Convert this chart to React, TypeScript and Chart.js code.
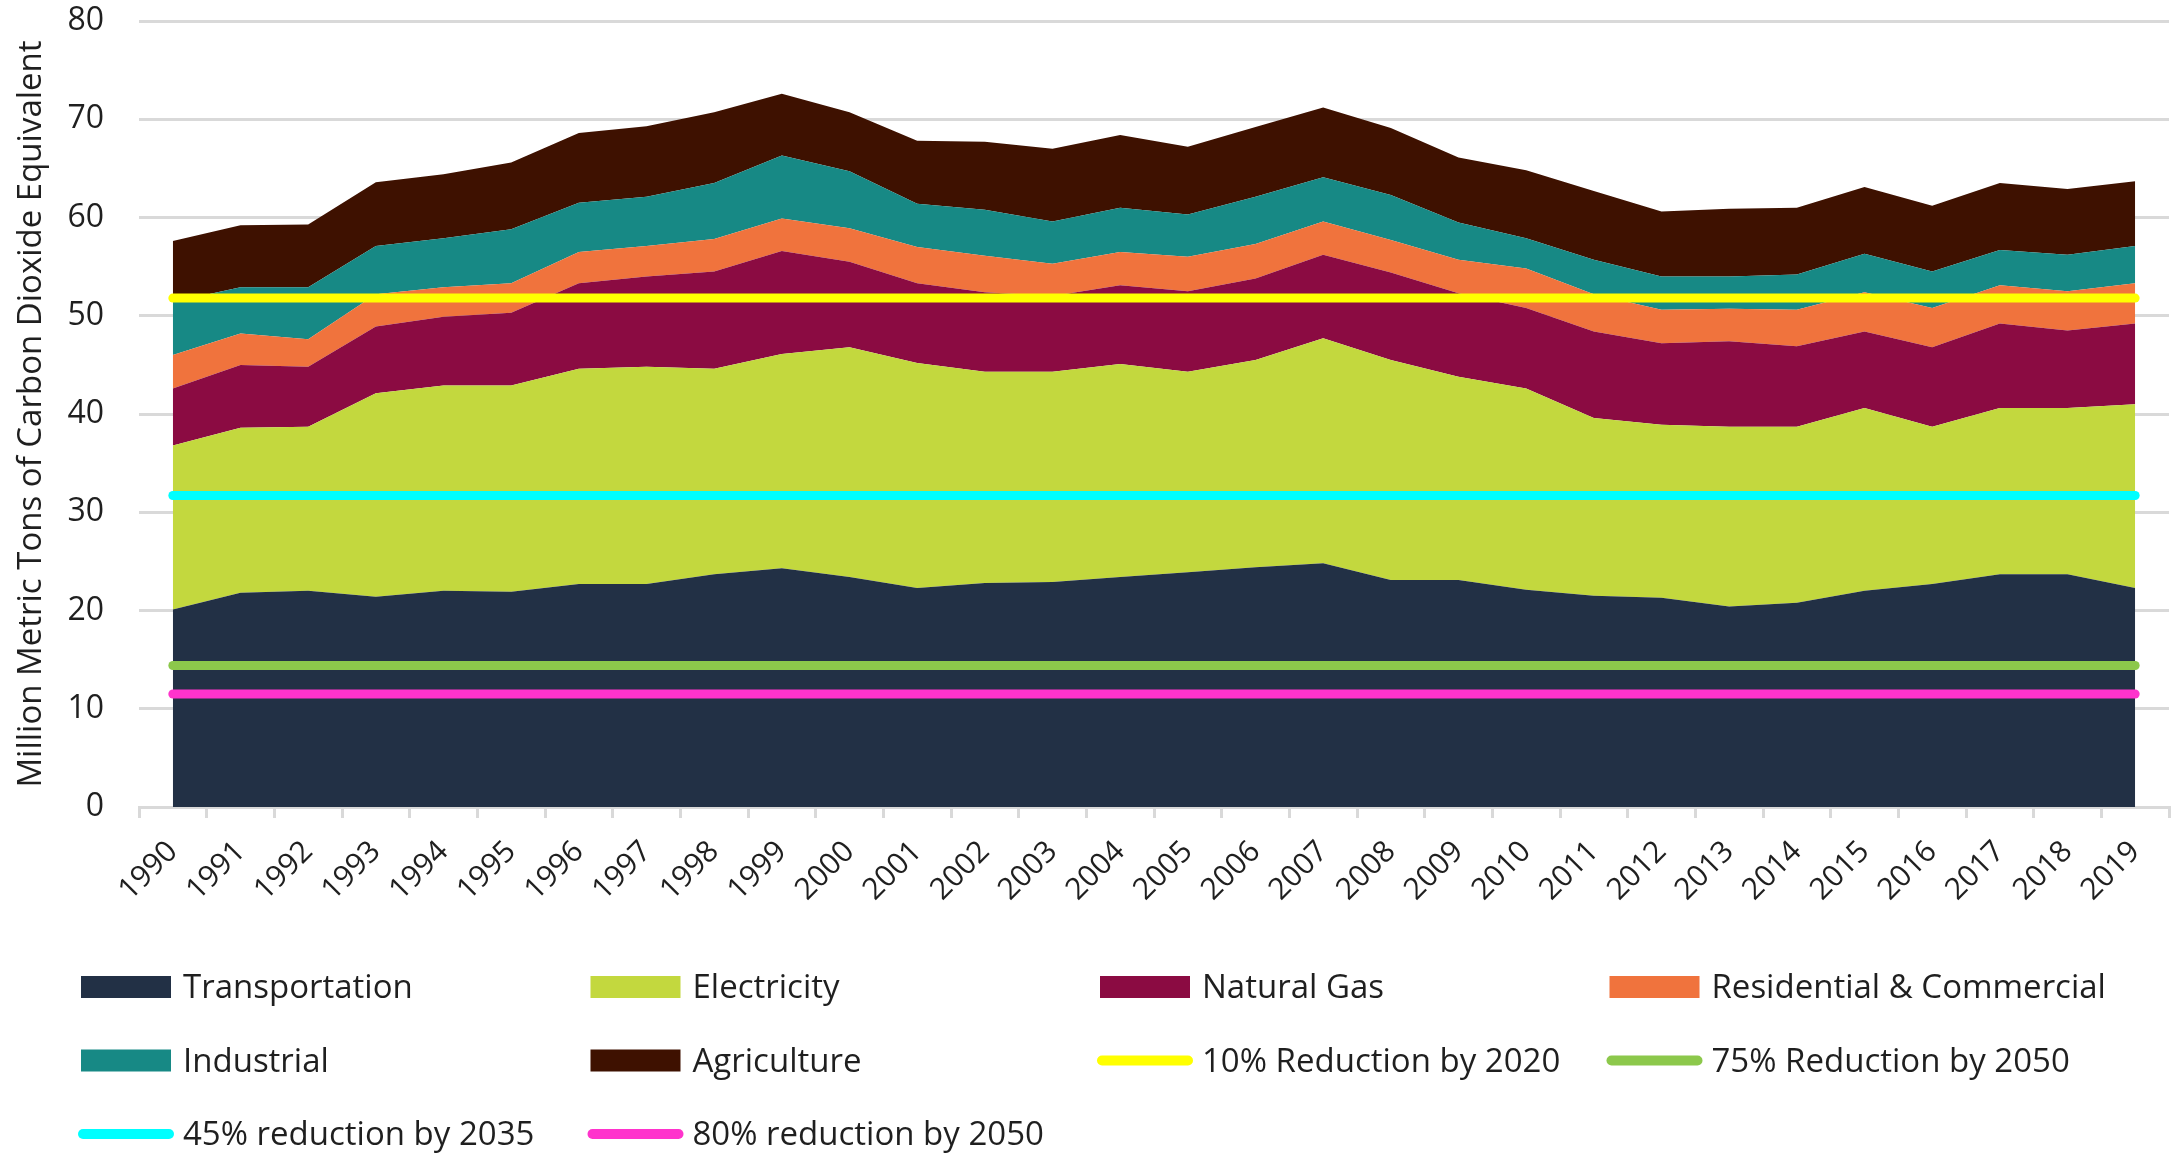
import React, { useEffect, useRef } from "react";
import { Chart, registerables } from "chart.js";

Chart.register(...registerables);

const years = [
  "1990", "1991", "1992", "1993", "1994", "1995", "1996", "1997", "1998", "1999",
  "2000", "2001", "2002", "2003", "2004", "2005", "2006", "2007", "2008", "2009",
  "2010", "2011", "2012", "2013", "2014", "2015", "2016", "2017", "2018", "2019",
];

const transportation = [
  20.1, 21.8, 22.0, 21.4, 22.0, 21.9, 22.7, 22.7, 23.7, 24.3,
  23.4, 22.3, 22.8, 22.9, 23.4, 23.9, 24.4, 24.8, 23.1, 23.1,
  22.1, 21.5, 21.3, 20.4, 20.8, 22.0, 22.7, 23.7, 23.7, 22.3,
];
const electricity = [
  16.7, 16.8, 16.7, 20.7, 20.9, 21.0, 21.9, 22.1, 20.9, 21.8,
  23.4, 22.9, 21.5, 21.4, 21.7, 20.4, 21.1, 22.9, 22.4, 20.7,
  20.5, 18.1, 17.6, 18.3, 17.9, 18.6, 16.0, 16.9, 16.9, 18.7,
];
const naturalGas = [
  5.8, 6.4, 6.1, 6.8, 7.0, 7.4, 8.7, 9.2, 9.9, 10.5,
  8.7, 8.1, 8.1, 7.7, 8.0, 8.2, 8.3, 8.5, 8.9, 8.5,
  8.2, 8.8, 8.3, 8.7, 8.2, 7.8, 8.1, 8.6, 7.9, 8.2,
];
const residentialCommercial = [
  3.4, 3.2, 2.8, 3.3, 3.0, 3.0, 3.2, 3.1, 3.3, 3.3,
  3.4, 3.7, 3.7, 3.3, 3.4, 3.5, 3.5, 3.4, 3.3, 3.4,
  4.0, 3.8, 3.4, 3.3, 3.7, 4.0, 4.0, 3.9, 4.0, 4.1,
];
const industrial = [
  5.4, 4.7, 5.3, 4.9, 5.0, 5.5, 5.0, 5.0, 5.7, 6.4,
  5.8, 4.4, 4.7, 4.3, 4.5, 4.3, 4.8, 4.5, 4.6, 3.8,
  3.1, 3.5, 3.4, 3.3, 3.6, 3.9, 3.7, 3.6, 3.7, 3.8,
];
const agriculture = [
  6.2, 6.3, 6.4, 6.5, 6.5, 6.8, 7.1, 7.2, 7.2, 6.3,
  6.0, 6.4, 6.9, 7.4, 7.4, 6.9, 7.1, 7.1, 6.8, 6.6,
  6.9, 7.0, 6.6, 6.9, 6.8, 6.8, 6.7, 6.8, 6.7, 6.6,
];

const reduction10by2020 = [
  51.8, 51.8, 51.8, 51.8, 51.8, 51.8, 51.8, 51.8, 51.8, 51.8,
  51.8, 51.8, 51.8, 51.8, 51.8, 51.8, 51.8, 51.8, 51.8, 51.8,
  51.8, 51.8, 51.8, 51.8, 51.8, 51.8, 51.8, 51.8, 51.8, 51.8,
];
const reduction75by2050 = [
  14.4, 14.4, 14.4, 14.4, 14.4, 14.4, 14.4, 14.4, 14.4, 14.4,
  14.4, 14.4, 14.4, 14.4, 14.4, 14.4, 14.4, 14.4, 14.4, 14.4,
  14.4, 14.4, 14.4, 14.4, 14.4, 14.4, 14.4, 14.4, 14.4, 14.4,
];
const reduction45by2035 = [
  31.7, 31.7, 31.7, 31.7, 31.7, 31.7, 31.7, 31.7, 31.7, 31.7,
  31.7, 31.7, 31.7, 31.7, 31.7, 31.7, 31.7, 31.7, 31.7, 31.7,
  31.7, 31.7, 31.7, 31.7, 31.7, 31.7, 31.7, 31.7, 31.7, 31.7,
];
const reduction80by2050 = [
  11.5, 11.5, 11.5, 11.5, 11.5, 11.5, 11.5, 11.5, 11.5, 11.5,
  11.5, 11.5, 11.5, 11.5, 11.5, 11.5, 11.5, 11.5, 11.5, 11.5,
  11.5, 11.5, 11.5, 11.5, 11.5, 11.5, 11.5, 11.5, 11.5, 11.5,
];

const yTicks = [0, 10, 20, 30, 40, 50, 60, 70, 80];

const FONT = '"Open Sans", "Noto Sans", sans-serif';
const TEXT = "#1f1f1f";

const legendPlugin = {
  id: "gridLegend",
  afterDraw(chart: any) {
    const ctx = chart.ctx as CanvasRenderingContext2D;
    const left = 81;
    const colW = 509.5;
    const rowTop = 987;
    const rowH = 73.5;
    ctx.save();
    ctx.font = `33px ${FONT}`;
    ctx.textAlign = "left";
    ctx.textBaseline = "middle";
    chart.data.datasets.forEach((ds: any, i: number) => {
      const col = i % 4;
      const row = Math.floor(i / 4);
      const x = left + col * colW;
      const y = rowTop + row * rowH;
      if (ds.legendKind === "line") {
        ctx.strokeStyle = ds.borderColor;
        ctx.lineWidth = 10;
        ctx.lineCap = "round";
        ctx.beginPath();
        ctx.moveTo(x + 2, y);
        ctx.lineTo(x + 88, y);
        ctx.stroke();
      } else {
        ctx.fillStyle = ds.backgroundColor;
        ctx.fillRect(x, y - 11, 90, 22);
      }
      ctx.fillStyle = TEXT;
      ctx.fillText(ds.label, x + 102, y + 2);
    });
    ctx.restore();
  },
};

function area(label: string, data: number[], color: string, fill: any) {
  return {
    label,
    data,
    backgroundColor: color,
    borderColor: "rgba(0,0,0,0)",
    borderWidth: 0,
    pointRadius: 0,
    fill,
    tension: 0,
    order: 1,
    legendKind: "box",
  };
}

function target(label: string, data: number[], color: string, stack: string) {
  return {
    label,
    data,
    borderColor: color,
    backgroundColor: color,
    borderWidth: 9,
    borderCapStyle: "round",
    pointRadius: 0,
    fill: false,
    tension: 0,
    stack,
    order: 0,
    legendKind: "line",
  };
}

export default function App() {
  const canvasRef = useRef<HTMLCanvasElement | null>(null);

  useEffect(() => {
    document.body.style.margin = "0";
    const canvas = canvasRef.current;
    if (!canvas) return;
    const chart = new Chart(canvas, {
      type: "line",
      data: {
        labels: years,
        datasets: [
          area("Transportation", transportation, "#223045", "origin"),
          area("Electricity", electricity, "#c3d83e", "-1"),
          area("Natural Gas", naturalGas, "#8b0b42", "-1"),
          area("Residential & Commercial", residentialCommercial, "#f0733d", "-1"),
          area("Industrial", industrial, "#178985", "-1"),
          area("Agriculture", agriculture, "#3e1100", "-1"),
          target("10% Reduction by 2020", reduction10by2020, "#ffff00", "t1"),
          target("75% Reduction by 2050", reduction75by2050, "#8cc84b", "t2"),
          target("45% reduction by 2035", reduction45by2035, "#00ffff", "t3"),
          target("80% reduction by 2050", reduction80by2050, "#ff33cc", "t4"),
        ] as any,
      },
      options: {
        animation: false,
        responsive: true,
        maintainAspectRatio: false,
        devicePixelRatio: 1,
        layout: { padding: { left: 12, right: 11, top: 21, bottom: 0 } },
        plugins: {
          legend: { display: false },
          tooltip: { enabled: false },
        },
        scales: {
          x: {
            type: "category",
            offset: true,
            afterFit: (scale: any) => {
              scale.height = 346;
              scale.paddingLeft = 0;
              scale.paddingRight = 0;
            },
            grid: {
              display: true,
              offset: true,
              drawOnChartArea: false,
              drawTicks: true,
              tickLength: 11,
              color: "#d9d9d9",
              lineWidth: 3,
            },
            border: { display: true, color: "#d9d9d9", width: 3 },
            ticks: {
              autoSkip: false,
              maxRotation: 45,
              minRotation: 45,
              padding: 16,
              color: TEXT,
              font: { family: FONT, size: 30 },
            },
          },
          y: {
            stacked: true,
            min: yTicks[0],
            max: yTicks[yTicks.length - 1],
            afterBuildTicks: (scale: any) => {
              scale.ticks = yTicks.map((v) => ({ value: v }));
            },
            afterFit: (scale: any) => {
              scale.width = 127;
              scale.paddingTop = 0;
              scale.paddingBottom = 0;
            },
            ticks: {
              padding: 35,
              color: TEXT,
              font: { family: FONT, size: 32 },
            },
            grid: { color: "#d9d9d9", lineWidth: 3, drawTicks: false },
            border: { display: false },
            title: {
              display: true,
              text: "Million Metric Tons of Carbon Dioxide Equivalent",
              color: TEXT,
              font: { family: FONT, size: 33 },
              padding: { top: 0, bottom: 18 },
            },
          },
        },
      } as any,
      plugins: [legendPlugin],
    });
    return () => chart.destroy();
  }, []);

  return (
    <div style={{ position: "relative", width: "2180px", height: "1153px" }}>
      <canvas ref={canvasRef} />
    </div>
  );
}
